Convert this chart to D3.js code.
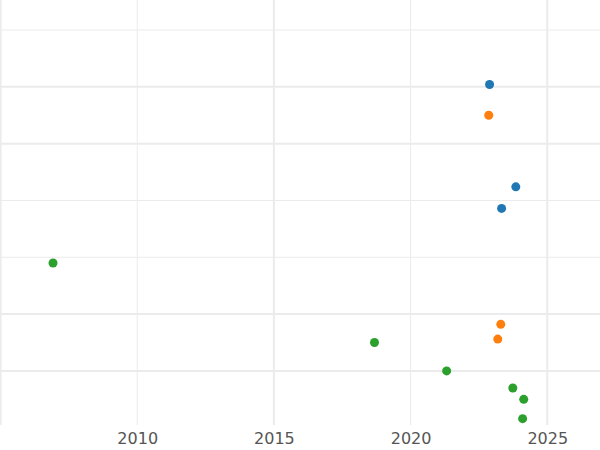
<!DOCTYPE html>
<html><head><meta charset="utf-8">
<script src="https://cdn.jsdelivr.net/npm/d3@7"></script>
<style>body{margin:0;background:#fff}</style></head>
<body><svg id="c" width="600" height="450"></svg>
<script>
const blueX=[2022.89,2023.85,2023.33], blueY=[3.02,2.12,1.93];
const orangeX=[2022.86,2023.30,2023.19], orangeY=[2.75,0.91,0.78];
const greenX=[2006.92,2018.68,2021.32,2023.74,2024.14,2024.10], greenY=[1.45,0.75,0.50,0.35,0.25,0.08];
const xTicks=[2010,2015,2020,2025];
const series=[{x:blueX,y:blueY,c:"#1f77b4"},{x:orangeX,y:orangeY,c:"#ff7f0e"},{x:greenX,y:greenY,c:"#2ca02c"}];
const svg=d3.select("#c");
const x=d3.scaleLinear().domain([2004.98,2026.93]).range([0,600]);
const y=d3.scaleLinear().domain([0.024,3.764]).range([425,0]);
const g=svg.append("g");
const thickH=new Set([3.0,2.5,1.0,0.5]);
d3.range(0.5,3.51,0.5).forEach(v=>{
  g.append("line").attr("x1",0).attr("x2",600).attr("y1",y(v)).attr("y2",y(v))
   .attr("stroke","#ebebeb").attr("stroke-width",thickH.has(v)?2:1);
});
[2005,2010,2015,2020,2025].forEach(v=>{
  const major=(v-2005)%10===0;
  g.append("line").attr("x1",x(v)).attr("x2",x(v)).attr("y1",0).attr("y2",425)
   .attr("stroke","#ebebeb").attr("stroke-width",major?2:1);
});
const ax=svg.append("g").attr("transform","translate(0,425)")
  .call(d3.axisBottom(x).tickValues(xTicks).tickFormat(d3.format("d")).tickSize(0).tickPadding(8));
ax.select(".domain").remove();
ax.selectAll("text").attr("font-family","DejaVu Sans").attr("font-size",16).attr("fill","#555");
series.forEach(s=>{
  svg.append("g").selectAll("circle").data(s.x.map((v,i)=>[v,s.y[i]])).join("circle")
   .attr("cx",d=>x(d[0])).attr("cy",d=>y(d[1])).attr("r",4.5).attr("fill",s.c);
});
</script></body></html>
